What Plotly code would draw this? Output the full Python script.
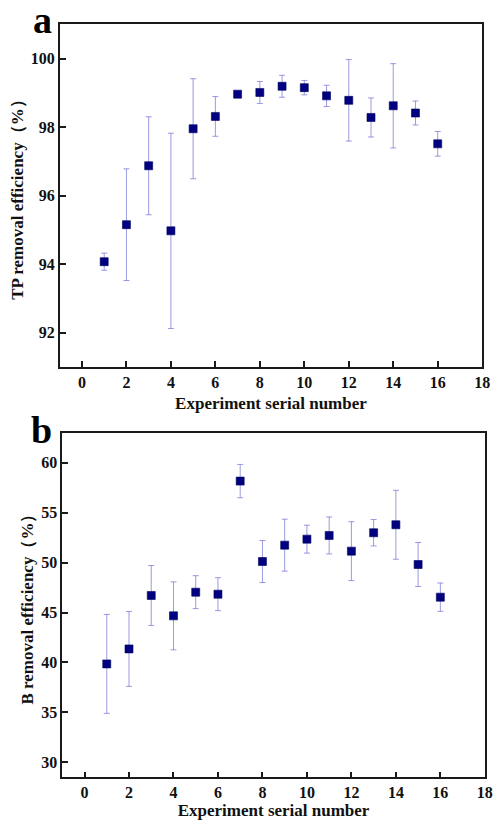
import plotly.graph_objects as go

W, H = 501, 820

serial = list(range(1, 17))
tp_eff = [94.07, 95.15, 96.87, 94.97, 97.95, 98.31, 98.96, 99.01,
          99.19, 99.15, 98.91, 98.78, 98.28, 98.62, 98.41, 97.51]
tp_err = [0.25, 1.63, 1.43, 2.85, 1.46, 0.58, 0.05, 0.32,
          0.32, 0.21, 0.31, 1.19, 0.57, 1.23, 0.35, 0.36]
b_eff = [39.86, 41.36, 46.71, 44.67, 47.04, 46.84, 58.16, 50.11,
         51.75, 52.35, 52.72, 51.15, 52.99, 53.79, 49.81, 46.54]
b_err = [4.95, 3.75, 3.0, 3.4, 1.65, 1.65, 1.67, 2.1,
         2.6, 1.4, 1.85, 2.95, 1.32, 3.45, 2.2, 1.42]

x_ticks = list(range(0, 19, 2))
tp_ticks = [92, 94, 96, 98, 100]
b_ticks = [30, 35, 40, 45, 50, 55, 60]

FONT = "Times New Roman"
MARK = "#000080"
ERRC = "rgba(120,120,215,0.75)"

fig = go.Figure()
fig.add_trace(go.Scatter(
    x=serial, y=tp_eff, mode="markers", xaxis="x", yaxis="y",
    marker=dict(symbol="square", size=8, color=MARK, line=dict(width=0.6, color="#00005a")),
    error_y=dict(type="data", array=tp_err, visible=True, color=ERRC, thickness=1, width=3),
    showlegend=False))
fig.add_trace(go.Scatter(
    x=serial, y=b_eff, mode="markers", xaxis="x2", yaxis="y2",
    marker=dict(symbol="square", size=8, color=MARK, line=dict(width=0.6, color="#00005a")),
    error_y=dict(type="data", array=b_err, visible=True, color=ERRC, thickness=1, width=3),
    showlegend=False))

axis_common = dict(showline=True, linecolor="#1a1a1a", linewidth=1.6, mirror=True,
                   ticks="inside", ticklen=6, tickwidth=1.5, tickcolor="#1a1a1a",
                   showgrid=False, zeroline=False,
                   tickfont=dict(family=FONT, size=16, color="#111"))
title_font = dict(family=FONT, size=17, color="#111")

fig.update_layout(
    width=W, height=H, margin=dict(l=0, r=0, t=0, b=0),
    paper_bgcolor="white", plot_bgcolor="white",
    font=dict(family=FONT, color="#111"),
    xaxis=dict(domain=[60.7 / W, 490 / W], anchor="y", range=[-1, 18],
               tickvals=x_ticks, ticktext=[f"<b>{t}</b>" for t in x_ticks],
               title=dict(text="<b>Experiment serial number</b>", font=title_font, standoff=7),
               **axis_common),
    yaxis=dict(domain=[1 - 367.3 / H, 1 - 24.3 / H], anchor="x", range=[91, 101],
               tickvals=tp_ticks, ticktext=[f"<b>{t}</b>" for t in tp_ticks],
               title=dict(text="<b>TP removal efficiency（%）</b>", font=title_font, standoff=3),
               **axis_common),
    xaxis2=dict(domain=[63.3 / W, 492.7 / W], anchor="y2", range=[-1, 18],
                tickvals=x_ticks, ticktext=[f"<b>{t}</b>" for t in x_ticks],
                title=dict(text="<b>Experiment serial number</b>", font=title_font, standoff=7),
                **axis_common),
    yaxis2=dict(domain=[1 - 778.3 / H, 1 - 433.3 / H], anchor="x2", range=[28.5, 63],
                tickvals=b_ticks, ticktext=[f"<b>{t}</b>" for t in b_ticks],
                title=dict(text="<b>B removal efficiency（%）</b>", font=title_font, standoff=3),
                **axis_common),
    annotations=[
        dict(text="<b>a</b>", x=43.5 / W, y=1 - 20 / H, xref="paper", yref="paper",
             xanchor="center", yanchor="middle", showarrow=False,
             font=dict(family=FONT, size=38, color="#000")),
        dict(text="<b>b</b>", x=42 / W, y=1 - 431 / H, xref="paper", yref="paper",
             xanchor="center", yanchor="middle", showarrow=False,
             font=dict(family=FONT, size=38, color="#000")),
    ],
)

fig.write_html("out.html")
